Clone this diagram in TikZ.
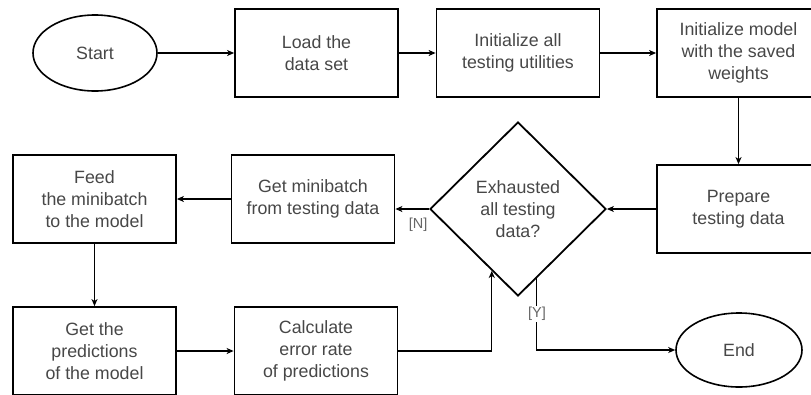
\documentclass[tikz,border=0pt]{standalone}
\usepackage{fontspec}
\setmainfont{Liberation Sans}
\usetikzlibrary{shapes.geometric,arrows.meta,calc}
\definecolor{txt}{HTML}{474747}
\definecolor{lbl}{HTML}{666666}
\begin{document}
\begin{tikzpicture}[x=1pt,y=-1pt,
  every node/.style={font=\fontsize{17.8}{22}\selectfont, text=txt, align=center},
  stepbox/.style={draw=black, line width=1.8pt, rectangle, minimum width=163pt, minimum height=88pt, inner sep=0pt},
  terminal/.style={draw=black, line width=1.6pt, ellipse, inner sep=0pt},
  decision/.style={draw=black, line width=1.8pt, diamond, minimum width=176pt, minimum height=174pt, inner sep=0pt},
  flow/.style={draw=black, line width=1.1pt, -{Stealth[length=7pt,width=6pt,inset=2pt]}},
  guard/.style={font=\fontsize{14.5}{16}\selectfont, text=lbl, inner sep=1pt}]
\useasboundingbox (0,0) rectangle (811,394);

% top row
\node[terminal, minimum width=124pt, minimum height=76pt] (start) at (95,53) {Start};
\node[stepbox] (load) at (316.5,53) {Load the\\data set};
\node[stepbox] (util) at (518,53) {Initialize all\\testing utilities};
\node[stepbox] (model) at (738.5,53) {Initialize model\\with the saved\\weights};

% middle row
\node[stepbox] (prep) at (738.5,209) {Prepare\\testing data};
\node[decision] (dia) at (518,209) {Exhausted\\all testing\\data?};
\node[stepbox] (batch) at (313,199) {Get minibatch\\from testing data};
\node[stepbox] (feed) at (94.5,199) {Feed\\the minibatch\\to the model};

% bottom row
\node[stepbox] (pred) at (94.5,351) {Get the\\predictions\\of the model};
\node[stepbox] (calc) at (316,351) {Calculate\\error rate\\of predictions};
\node[terminal, minimum width=126pt, minimum height=74pt] (end) at (739,350) {End};

% points where the loop joins and leaves the decision
\coordinate (loopin) at ($(dia.west)!0.705!(dia.south)$);
\coordinate (yesout) at ($(dia.south)!0.213!(dia.east)$);

% connectors
\draw[flow] (start) -- (load);
\draw[flow] (load) -- (util);
\draw[flow] (util) -- (model);
\draw[flow] (model) -- (prep);
\draw[flow] (prep) -- (dia);
\draw[flow] (dia.west) -- (dia.west -| batch.east);
\draw[flow] (batch) -- (feed);
\draw[flow] (feed) -- (pred);
\draw[flow] (pred) -- (calc);
\draw[flow] (calc.east) -| (loopin);
\draw[flow] (yesout) |- (end.west)
  node[guard, pos=0.25, fill=white] {[Y]};

\node[guard] (nlabel) at ($(dia.west)+(-11,16)$) {[N]};
\end{tikzpicture}
\end{document}
